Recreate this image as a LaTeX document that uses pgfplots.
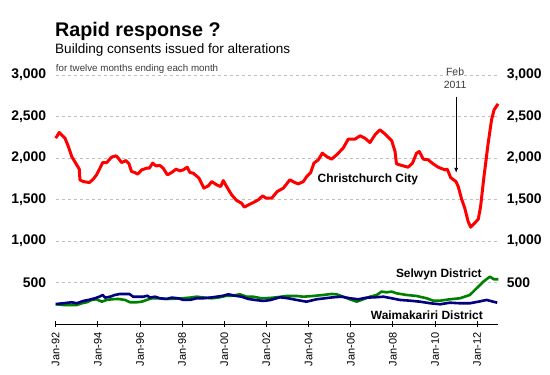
\documentclass[border=0pt]{standalone}
\usepackage{pgfplots}
\pgfplotsset{compat=1.18}
\usetikzlibrary{arrows.meta}
\usepackage{fontspec}
\setmainfont{Liberation Sans}
\definecolor{cred}{RGB}{255,0,0}
\definecolor{cblue}{RGB}{0,0,128}
\definecolor{cgreen}{RGB}{0,128,0}
\definecolor{gridgray}{RGB}{192,192,192}
\definecolor{txtgray}{RGB}{60,60,60}
\begin{document}
\begin{tikzpicture}
\path[fill=white,use as bounding box] (-55.7bp,-50.8bp) rectangle (494.3bp,324.2bp);
\node[anchor=base west,inner sep=0pt,font=\bfseries\fontsize{19.8}{22}\selectfont] at (-0.7bp,287.5bp) {Rapid response ?};
\node[anchor=base west,inner sep=0pt,font=\fontsize{13.6}{15}\selectfont] at (-0.7bp,270.9bp) {Building consents issued for alterations};
\node[anchor=base west,inner sep=0pt,text=txtgray,font=\fontsize{9.8}{10}\selectfont] at (0bp,252.9bp) {for twelve months ending each month};
\begin{axis}[
  at={(0,0)}, anchor=south west,
  scale only axis, width=442.6bp, height=249.2bp,
  xmin=1992, xmax=2013, ymin=0, ymax=3000,
  axis lines*=left,
  y axis line style={draw=none},
  ytick={500,1000,1500,2000,2500,3000},
  ytick style={draw=none},
  ymajorgrids, major grid style={gridgray, dash pattern=on 3bp off 3bp, line width=0.8bp},
  /pgf/number format/assume math mode=true,
  /pgf/number format/1000 sep={,},
  yticklabel style={font=\bfseries\fontsize{14}{16}\selectfont, xshift=-6bp},
  xtick={1992,1994,1996,1998,2000,2002,2004,2006,2008,2010,2012},
  xticklabels={Jan-92,Jan-94,Jan-96,Jan-98,Jan-00,Jan-02,Jan-04,Jan-06,Jan-08,Jan-10,Jan-12},
  xticklabel style={rotate=90, anchor=east, font=\fontsize{11}{12}\selectfont, xshift=-2bp},
  xtick align=center, major tick length=6bp,
  x axis line style={black, line width=1bp},
  xtick style={black, line width=1bp},
  clip=false,
]
\addplot[cgreen, line width=2.6bp, line join=round] coordinates {
(1992.00,240)(1992.36,231)(1992.70,231)(1993.00,231)(1993.24,252)(1993.47,264)(1993.71,292)(1993.94,300)(1994.18,271)(1994.42,292)(1994.66,300)(1994.97,304)(1995.29,292)(1995.53,264)(1995.84,264)(1996.08,271)(1996.32,292)(1996.55,312)(1996.87,312)(1997.18,304)(1997.50,304)(1997.98,312)(1998.37,320)(1998.69,331)(1999.08,320)(1999.40,312)(1999.71,320)(2000.11,343)(2000.40,343)(2000.74,360)(2001.06,331)(2001.37,331)(2001.77,312)(2002.17,316)(2002.48,324)(2002.96,340)(2003.43,340)(2003.75,331)(2004.22,340)(2004.70,352)(2005.09,364)(2005.33,360)(2005.64,331)(2005.96,300)(2006.28,271)(2006.59,300)(2006.91,331)(2007.23,352)(2007.46,392)(2007.70,384)(2007.94,392)(2008.17,372)(2008.65,352)(2009.12,340)(2009.60,312)(2009.91,283)(2010.23,283)(2010.70,300)(2011.18,312)(2011.65,352)(2011.97,432)(2012.29,512)(2012.60,572)(2012.79,541)(2013.00,541)
};
\addplot[cblue, line width=2.6bp, line join=round] coordinates {
(1992.00,243)(1992.36,252)(1992.76,264)(1993.00,252)(1993.31,280)(1993.55,292)(1993.86,312)(1994.07,331)(1994.23,352)(1994.34,320)(1994.58,331)(1994.81,352)(1995.05,364)(1995.49,364)(1995.68,331)(1995.92,331)(1996.16,331)(1996.35,343)(1996.47,320)(1996.71,331)(1996.95,312)(1997.27,304)(1997.50,320)(1997.82,312)(1998.05,292)(1998.37,292)(1998.69,312)(1999.00,312)(1999.32,320)(1999.64,331)(1999.95,343)(2000.19,360)(2000.50,343)(2000.82,331)(2001.14,304)(2001.45,292)(2001.85,280)(2002.17,290)(2002.64,324)(2003.03,312)(2003.43,292)(2003.90,271)(2004.38,300)(2004.77,312)(2005.17,324)(2005.57,331)(2005.96,312)(2006.36,300)(2006.76,320)(2007.15,324)(2007.55,331)(2007.94,312)(2008.34,292)(2008.82,283)(2009.29,271)(2009.77,252)(2010.24,240)(2010.70,259)(2011.18,252)(2011.65,252)(2012.05,271)(2012.45,292)(2012.76,271)(2012.95,259)
};
\addplot[cred, line width=3bp, line join=round] coordinates {
(1992.00,2240)(1992.17,2308)(1992.44,2240)(1992.60,2140)(1992.76,2018)(1993.00,1918)(1993.12,1866)(1993.15,1737)(1993.31,1717)(1993.60,1705)(1993.78,1746)(1993.94,1798)(1994.10,1878)(1994.23,1946)(1994.42,1946)(1994.65,2011)(1994.86,2027)(1994.97,1999)(1995.13,1946)(1995.33,1970)(1995.48,1930)(1995.60,1838)(1995.76,1826)(1995.89,1806)(1996.08,1858)(1996.32,1878)(1996.44,1878)(1996.60,1939)(1996.76,1906)(1996.95,1910)(1997.10,1878)(1997.30,1798)(1997.50,1826)(1997.71,1866)(1997.90,1846)(1998.05,1858)(1998.24,1890)(1998.37,1826)(1998.53,1818)(1998.80,1758)(1999.03,1638)(1999.24,1665)(1999.40,1717)(1999.64,1677)(1999.83,1657)(1999.95,1729)(2000.11,1657)(2000.35,1557)(2000.59,1488)(2000.82,1457)(2000.95,1409)(2001.14,1436)(2001.37,1464)(2001.61,1497)(2001.82,1545)(2001.98,1517)(2002.25,1517)(2002.51,1597)(2002.80,1638)(2003.11,1738)(2003.35,1705)(2003.51,1689)(2003.75,1717)(2003.91,1777)(2004.10,1826)(2004.25,1939)(2004.46,1979)(2004.65,2059)(2004.86,2018)(2005.09,1987)(2005.33,2039)(2005.64,2120)(2005.88,2228)(2006.20,2228)(2006.44,2268)(2006.67,2240)(2006.91,2187)(2007.15,2280)(2007.38,2340)(2007.62,2292)(2007.94,2211)(2008.10,2079)(2008.17,1930)(2008.49,1906)(2008.72,1890)(2008.93,1939)(2009.12,2059)(2009.25,2079)(2009.44,1987)(2009.67,1979)(2009.91,1930)(2010.15,1890)(2010.47,1858)(2010.58,1866)(2010.74,1765)(2010.99,1717)(2011.10,1657)(2011.26,1505)(2011.41,1397)(2011.57,1235)(2011.69,1168)(2011.84,1207)(2012.05,1264)(2012.16,1416)(2012.32,1777)(2012.52,2180)(2012.68,2461)(2012.80,2581)(2012.99,2653)
};
\node[font=\bfseries\fontsize{12}{14}\selectfont] at (axis cs:2006.81,1738) {Christchurch City};
\node[font=\bfseries\fontsize{12}{14}\selectfont] at (axis cs:2010.18,605) {Selwyn District};
\node[font=\bfseries\fontsize{12}{14}\selectfont] at (axis cs:2009.61,111) {Waimakariri District};
\node[text=txtgray, align=center, font=\fontsize{10.5}{13}\selectfont] at (axis cs:2010.95,2962) {Feb\\2011};
\draw[-{Latex[length=5bp,width=4bp]}, line width=0.8bp] (axis cs:2011.0,2741) -- (axis cs:2011.0,1822);
\end{axis}
\begin{axis}[
  at={(0,0)}, anchor=south west,
  scale only axis, width=442.6bp, height=249.2bp,
  xmin=1992, xmax=2013, ymin=0, ymax=3000,
  hide x axis,
  axis y line*=right,
  y axis line style={draw=none},
  ytick={500,1000,1500,2000,2500,3000},
  ytick style={draw=none},
  /pgf/number format/assume math mode=true,
  /pgf/number format/1000 sep={,},
  yticklabel style={font=\bfseries\fontsize{14}{16}\selectfont, xshift=5bp},
]
\addplot[draw=none] coordinates {(1992,0)};
\end{axis}
\end{tikzpicture}
\end{document}
